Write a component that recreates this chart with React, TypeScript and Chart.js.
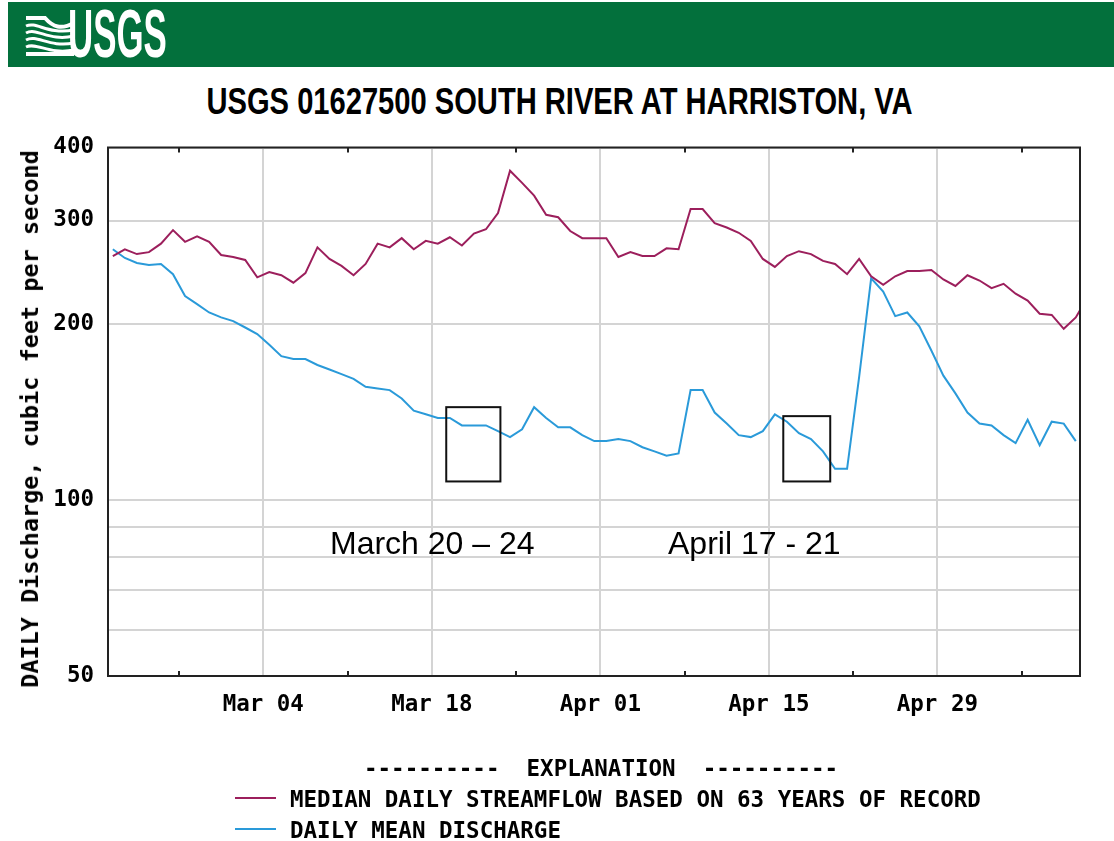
import React, { useEffect, useLayoutEffect, useRef } from 'react';
import { Chart, registerables } from 'chart.js';

Chart.register(...registerables);

// x values are days counted from Mar 04 (00:00); each daily value sits at noon
const firstValueDay = -12.5;
const axisStartDay = -12.9;
const axisEndDay = 67.85;
const labelDays = [0, 14, 28, 42, 56];
const labelTexts = ['Mar 04', 'Mar 18', 'Apr 01', 'Apr 15', 'Apr 29'];
const minorTickDays = [-7, 7, 21, 35, 49, 63];
const yGridValues = [50, 60, 70, 80, 90, 100, 200, 300, 400];
const yLabelValues = [50, 100, 200, 300, 400];

const medianDailyFlow = [
  261, 268, 263, 265, 274, 289, 276, 282, 276, 262,
  260, 257, 240, 245, 242, 235, 244, 270, 258, 251,
  242, 253, 274, 270, 280, 268, 277, 274, 281, 272,
  285, 290, 309, 365, 348, 331, 307, 304, 288, 280,
  280, 280, 260, 265, 261, 261, 269, 268, 314, 314,
  297, 292, 286, 277, 258, 250, 261, 266, 263, 256,
  253, 243, 258, 241, 233, 241, 246, 246, 247, 238,
  232, 242, 237, 230, 234, 225, 219, 208, 207, 196,
  205, 222,
];

const dailyMeanDischarge = [
  268, 259, 254, 252, 253, 243, 223, 216, 209, 205,
  202, 197, 192, 184, 176, 174, 174, 170, 167, 164,
  161, 156, 155, 154, 149, 142, 140, 138, 138, 134,
  134, 134, 131, 128, 132, 144, 138, 133, 133, 129,
  126, 126, 127, 126, 123, 121, 119, 120, 154, 154,
  141, 135, 129, 128, 131, 140, 136, 130, 127, 121,
  113, 113, 162, 239, 227, 206, 209, 198, 180, 163,
  152, 141, 135, 134, 129, 125, 137, 124, 136, 135,
  126,
];

const highlightBoxes = [
  { fromDay: 15.2, toDay: 19.7, high: 144, low: 107.5 },
  { fromDay: 43.2, toDay: 47.1, high: 139, low: 107.5 },
];

const MEDIAN_COLOR = '#9c1f5c';
const MEAN_COLOR = '#2a9ad9';
const GRID_COLOR = '#d4d4d4';
const MONO = '"DejaVu Sans Mono", monospace';

const framePlugin = {
  id: 'frame',
  afterDatasetsDraw(chart: any) {
    const { ctx, chartArea: a, scales } = chart;
    const xs = scales.x;
    const ys = scales.y;
    ctx.save();
    ctx.lineWidth = 2;
    ctx.strokeStyle = '#111';
    highlightBoxes.forEach((b) => {
      const x0 = xs.getPixelForValue(b.fromDay);
      const x1 = xs.getPixelForValue(b.toDay);
      const y0 = ys.getPixelForValue(b.high);
      const y1 = ys.getPixelForValue(b.low);
      ctx.strokeRect(x0, y0, x1 - x0, y1 - y0);
    });
    ctx.strokeStyle = '#222';
    ctx.strokeRect(a.left, a.top, a.right - a.left, a.bottom - a.top);
    ctx.beginPath();
    minorTickDays.forEach((d) => {
      const x = Math.round(xs.getPixelForValue(d));
      ctx.moveTo(x, a.bottom);
      ctx.lineTo(x, a.bottom - 5);
      ctx.moveTo(x, a.top);
      ctx.lineTo(x, a.top + 5);
    });
    ctx.stroke();
    ctx.restore();
  },
};

function FlowChart() {
  const canvasRef = useRef<HTMLCanvasElement>(null);
  useEffect(() => {
    if (!canvasRef.current) return;
    const medianPoints = medianDailyFlow.map((v, i) => ({ x: firstValueDay + i, y: v }));
    const meanPoints = dailyMeanDischarge.map((v, i) => ({ x: firstValueDay + i, y: v }));
    const tickFont = { family: MONO, size: 22.5, weight: 'bold' as const };
    const chart = new Chart(canvasRef.current, {
      type: 'line',
      data: {
        datasets: [
          {
            label: 'MEDIAN DAILY STREAMFLOW BASED ON 63 YEARS OF RECORD',
            data: medianPoints,
            borderColor: MEDIAN_COLOR,
            borderWidth: 2,
            pointRadius: 0,
            tension: 0,
          },
          {
            label: 'DAILY MEAN DISCHARGE',
            data: meanPoints,
            borderColor: MEAN_COLOR,
            borderWidth: 2,
            pointRadius: 0,
            tension: 0,
          },
        ],
      },
      options: {
        animation: false,
        responsive: true,
        maintainAspectRatio: false,
        layout: { padding: { left: 0, right: 34, top: 6, bottom: 105 } },
        plugins: { legend: { display: false }, tooltip: { enabled: false } },
        scales: {
          x: {
            type: 'linear',
            min: axisStartDay,
            max: axisEndDay,
            afterBuildTicks: (s: any) => {
              s.ticks = labelDays.map((v) => ({ value: v }));
            },
            afterFit: (s: any) => {
              s.height = 60;
            },
            ticks: {
              autoSkip: false,
              maxRotation: 0,
              padding: 16,
              color: '#000',
              font: tickFont,
              callback: (value: any) => {
                const i = labelDays.indexOf(Number(value));
                return i >= 0 ? labelTexts[i] : '';
              },
            },
            grid: { color: GRID_COLOR, lineWidth: 2, drawTicks: false },
            border: { display: false },
          },
          y: {
            type: 'logarithmic',
            min: 50,
            max: 400,
            afterBuildTicks: (s: any) => {
              s.ticks = yGridValues.map((v) => ({ value: v }));
            },
            afterFit: (s: any) => {
              s.width = 108;
            },
            ticks: {
              autoSkip: false,
              padding: 14,
              color: '#000',
              font: tickFont,
              callback: (value: any) => (yLabelValues.includes(Number(value)) ? String(value) : ''),
            },
            grid: { color: GRID_COLOR, lineWidth: 2, drawTicks: false },
            border: { display: false },
          },
        },
      },
      plugins: [framePlugin],
    });
    return () => chart.destroy();
  }, []);
  return (
    <div style={{ position: 'absolute', left: 0, top: 120, width: 1114, height: 721 }}>
      <canvas ref={canvasRef} />
    </div>
  );
}

function UsgsLogo() {
  return (
    <svg width={50} height={42} viewBox="0 0 50 42" style={{ position: 'absolute', left: 17, top: 13 }}>
      <path d="M1,3 L20,3 C28,12 36,15 49,8" stroke="#fff" strokeWidth={4} fill="none" />
      <path d="M1,11 C12,6 22,20 49,15" stroke="#fff" strokeWidth={3} fill="none" />
      <path d="M1,18 C12,12 24,27 49,21" stroke="#fff" strokeWidth={3} fill="none" />
      <path d="M1,25 C12,19 24,33 49,28" stroke="#fff" strokeWidth={3} fill="none" />
      <path d="M1,32 C12,27 24,40 49,35" stroke="#fff" strokeWidth={3} fill="none" />
      <path d="M1,39 L49,39" stroke="#fff" strokeWidth={4} fill="none" />
    </svg>
  );
}

export default function App() {
  const titleRef = useRef<HTMLSpanElement>(null);
  const logoRef = useRef<HTMLSpanElement>(null);
  useLayoutEffect(() => {
    const t = titleRef.current;
    if (t) t.style.transform = `scaleX(${706 / t.offsetWidth})`;
    const l = logoRef.current;
    if (l) l.style.transform = `scaleX(${99 / l.offsetWidth})`;
  }, []);

  const mono: React.CSSProperties = {
    position: 'absolute',
    fontFamily: MONO,
    fontWeight: 'bold',
    fontSize: 22.5,
    lineHeight: '22.5px',
    whiteSpace: 'pre',
    color: '#000',
  };

  return (
    <div style={{ position: 'absolute', left: 0, top: 0, width: 1114, height: 841, background: '#fff', overflow: 'hidden' }}>
      <div style={{ position: 'absolute', left: 8, top: 2, width: 1106, height: 65, background: '#03703c' }}>
        <UsgsLogo />
      </div>
      <span
        ref={logoRef}
        style={{
          position: 'absolute',
          left: 68,
          top: -1,
          fontFamily: '"Liberation Sans", Arial, sans-serif',
          fontWeight: 'bold',
          fontSize: 68,
          lineHeight: '68px',
          color: '#fff',
          transformOrigin: 'left center',
          display: 'inline-block',
          whiteSpace: 'nowrap',
        }}
      >
        USGS
      </span>
      <div style={{ position: 'absolute', left: 0, width: 1120, top: 83, textAlign: 'center' }}>
        <span
          ref={titleRef}
          style={{
            display: 'inline-block',
            fontFamily: '"Liberation Sans", Arial, sans-serif',
            fontWeight: 'bold',
            fontSize: 37,
            lineHeight: '37px',
            whiteSpace: 'nowrap',
            color: '#000',
            transformOrigin: 'center center',
          }}
        >
          USGS 01627500 SOUTH RIVER AT HARRISTON, VA
        </span>
      </div>
      <FlowChart />
      <div
        style={{
          ...mono,
          fontSize: 23.5,
          lineHeight: '24px',
          left: 30,
          top: 419,
          transform: 'translate(-50%, -50%) rotate(-90deg)',
        }}
      >
        DAILY Discharge, cubic feet per second
      </div>
      <div style={{ position: 'absolute', left: 330, top: 527, fontFamily: '"Liberation Sans", Arial, sans-serif', fontSize: 32, lineHeight: '32px', color: '#000', whiteSpace: 'nowrap' }}>
        March 20 – 24
      </div>
      <div style={{ position: 'absolute', left: 668, top: 527, fontFamily: '"Liberation Sans", Arial, sans-serif', fontSize: 32, lineHeight: '32px', color: '#000', whiteSpace: 'nowrap' }}>
        April 17 - 21
      </div>
      <div style={{ ...mono, left: 364, top: 757 }}>{'----------  EXPLANATION  ----------'}</div>
      <div style={{ position: 'absolute', left: 235, top: 797, width: 41, height: 2, background: MEDIAN_COLOR }} />
      <div style={{ ...mono, left: 290, top: 788 }}>MEDIAN DAILY STREAMFLOW BASED ON 63 YEARS OF RECORD</div>
      <div style={{ position: 'absolute', left: 235, top: 828, width: 41, height: 2, background: MEAN_COLOR }} />
      <div style={{ ...mono, left: 290, top: 819 }}>DAILY MEAN DISCHARGE</div>
    </div>
  );
}
